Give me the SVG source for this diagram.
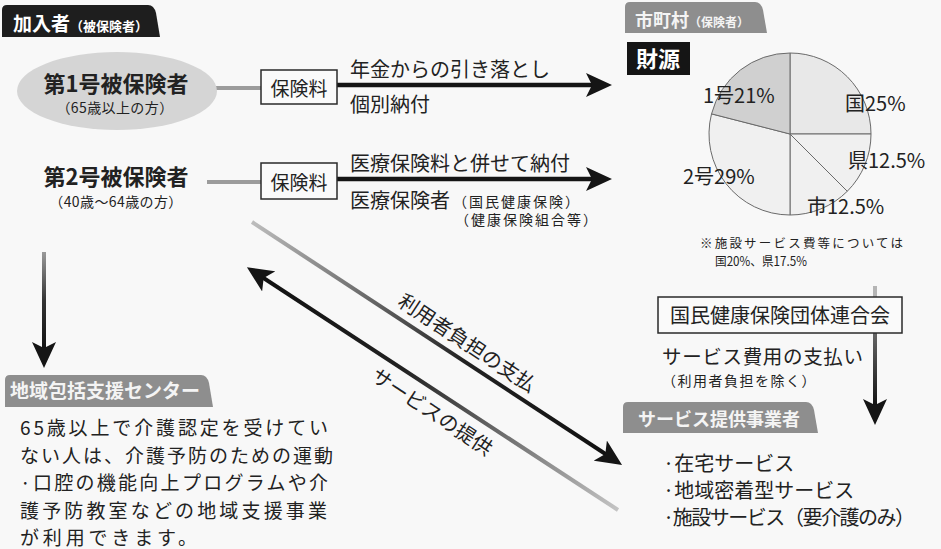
<svg xmlns="http://www.w3.org/2000/svg" width="941" height="549" viewBox="0 0 941 549">
<defs>
<style>
text{font-family:"Noto Sans CJK JP","Noto Sans CJK SC",sans-serif;fill:#222}
.tw{fill:#fff;font-weight:bold}
.tg{fill:#f4f4f4;font-weight:bold}
.box{fill:#fafafa;stroke:#2a2a2a;stroke-width:1.5}
.link{stroke:#9c9c9c;stroke-width:4;fill:none}
.arr{stroke:#151515;stroke-width:4.5;fill:none}
.pie{stroke:#6a6a6a;stroke-width:1}
.gtab{fill:#8e8e8e}
.f20{font-size:20px}
.body{font-size:19px}
.note{font-size:12.5px}
</style>
<marker id="ah" markerUnits="userSpaceOnUse" markerWidth="26" markerHeight="24" viewBox="0 0 26 24" refX="8" refY="12" orient="auto-start-reverse">
<path d="M0,0 L26,12 L0,24 L6,12 Z" fill="#151515"/>
</marker>
<linearGradient id="gUp" gradientUnits="userSpaceOnUse" x1="252" y1="222" x2="607" y2="455">
<stop offset="0" stop-color="#bdbdbd"/><stop offset="0.6" stop-color="#222"/><stop offset="1" stop-color="#111"/>
</linearGradient>
<linearGradient id="gLo" gradientUnits="userSpaceOnUse" x1="262" y1="277" x2="618" y2="510">
<stop offset="0" stop-color="#111"/><stop offset="0.4" stop-color="#222"/><stop offset="1" stop-color="#c4c4c4"/>
</linearGradient>
<linearGradient id="gV1" gradientUnits="userSpaceOnUse" x1="0" y1="252" x2="0" y2="350">
<stop offset="0" stop-color="#9a9a9a"/><stop offset="0.5" stop-color="#333"/><stop offset="1" stop-color="#111"/>
</linearGradient>
<linearGradient id="gV2" gradientUnits="userSpaceOnUse" x1="0" y1="333" x2="0" y2="407">
<stop offset="0" stop-color="#666"/><stop offset="1" stop-color="#111"/>
</linearGradient>
</defs>

<rect x="0" y="0" width="941" height="549" fill="#f8f8f8"/>

<!-- Connectors -->
<g id="connectors">
<line class="link" x1="207" y1="88" x2="261" y2="88"/>
<line class="link" x1="207" y1="182" x2="261" y2="182"/>
<line class="arr" x1="337" y1="85" x2="594" y2="85" marker-end="url(#ah)"/>
<line class="arr" x1="337" y1="179" x2="594" y2="179" marker-end="url(#ah)"/>
<line x1="44" y1="252" x2="44" y2="350" stroke="url(#gV1)" stroke-width="4" marker-end="url(#ah)"/>
<line x1="875" y1="286" x2="875" y2="297" stroke="#b5b5b5" stroke-width="4"/>
<line x1="875" y1="333" x2="875" y2="407" stroke="url(#gV2)" stroke-width="4" marker-end="url(#ah)"/>
<line x1="252" y1="222" x2="607" y2="455" stroke="url(#gUp)" stroke-width="4" marker-end="url(#ah)"/>
<line x1="262" y1="277" x2="618" y2="510" stroke="url(#gLo)" stroke-width="4" marker-start="url(#ah)"/>
<text class="f20" transform="translate(467,343) rotate(33.5)" x="0" y="7" text-anchor="middle">利用者負担の支払</text>
<text class="f20" transform="translate(432,412) rotate(33.5)" x="0" y="7" text-anchor="middle">サービスの提供</text>
<text class="f20" x="350" y="77">年金からの引き落とし</text>
<text class="f20" x="350" y="112">個別納付</text>
<text class="f20" x="350" y="171">医療保険料と併せて納付</text>
<text class="f20" x="350" y="208">医療保険者</text>
<text x="453" y="207" font-size="14" letter-spacing="2">（国民健康保険）</text>
<text x="455" y="225" font-size="14" letter-spacing="2">（健康保険組合等）</text>
<text x="662" y="364" font-size="19.5" textLength="201" lengthAdjust="spacing">サービス費用の支払い</text>
<text x="662" y="386" font-size="14" letter-spacing="1.5">（利用者負担を除く）</text>
</g>

<!-- Header: 加入者 -->
<g id="tab-kanyusha">
<path d="M2,37 L2,10 Q2,5 7,5 L148,5 Q154,5 156,13 L160,37 Z" fill="#1e1e1e"/>
<text class="tw" x="13" y="31" font-size="19">加入者<tspan font-size="13">（被保険者）</tspan></text>
</g>

<g id="node-dai1">
<ellipse cx="117" cy="91" rx="100" ry="39" fill="#d5d5d5"/>
<text x="116" y="92" font-size="22" font-weight="bold" text-anchor="middle">第1号被保険者</text>
<text x="115" y="113" font-size="14" text-anchor="middle" letter-spacing="0.4">（65歳以上の方）</text>
</g>

<g id="node-dai2">
<text x="116" y="185" font-size="22" font-weight="bold" text-anchor="middle">第2号被保険者</text>
<text x="116" y="207" font-size="14" text-anchor="middle" letter-spacing="0.4">（40歳～64歳の方）</text>
</g>

<g id="node-hoken1">
<rect class="box" x="261" y="70" width="76" height="34"/>
<text x="299" y="96" font-size="19" text-anchor="middle">保険料</text>
</g>

<g id="node-hoken2">
<rect class="box" x="261" y="163" width="76" height="36"/>
<text x="299" y="190" font-size="19" text-anchor="middle">保険料</text>
</g>

<g id="tab-shichoson">
<path class="gtab" d="M625,33 L625,7 Q625,2 630,2 L755,2 Q761,2 763,10 L767,33 Z"/>
<text class="tg" x="635" y="27" font-size="18">市町村<tspan font-size="12">（保険者）</tspan></text>
</g>

<g id="node-zaigen">
<rect x="627" y="42" width="63" height="33" fill="#151515"/>
<text class="tw" x="658" y="67" font-size="22" text-anchor="middle">財源</text>
<path class="pie" d="M790,134 L790,53 A81,81 0 0 1 871,134 Z" fill="#e8e8e8"/>
<path class="pie" d="M790,134 L871,134 A81,81 0 0 1 847.28,191.28 Z" fill="#f0f0f0"/>
<path class="pie" d="M790,134 L847.28,191.28 A81,81 0 0 1 790,215 Z" fill="#f0f0f0"/>
<path class="pie" d="M790,134 L790,215 A81,81 0 0 1 711.54,113.86 Z" fill="#f0f0f0"/>
<path class="pie" d="M790,134 L711.54,113.86 A81,81 0 0 1 790,53 Z" fill="#d0d0d0"/>
<text class="f20" x="703" y="103">1号21%</text>
<text class="f20" x="845" y="111">国25%</text>
<text class="f20" x="848" y="168">県12.5%</text>
<text class="f20" x="683" y="184">2号29%</text>
<text class="f20" x="807" y="214">市12.5%</text>
<text class="note" x="700" y="248" textLength="203" lengthAdjust="spacing">※施設サービス費等については</text>
<text class="note" x="715" y="266" textLength="92" lengthAdjust="spacingAndGlyphs">国20%、県17.5%</text>
</g>

<g id="node-kokuhoren">
<rect class="box" x="658" y="297" width="244" height="36"/>
<text class="f20" x="780" y="323" text-anchor="middle">国民健康保険団体連合会</text>
</g>

<g id="node-service">
<path class="gtab" d="M623,433 L623,407 Q623,402 628,402 L806,402 Q812,402 814,410 L818,433 Z"/>
<text class="tg" x="638" y="426" font-size="18">サービス提供事業者</text>
<text class="f20" x="663" y="471">·在宅サービス</text>
<text class="f20" x="663" y="498">·地域密着型サービス</text>
<text class="f20" x="663" y="525" textLength="252" lengthAdjust="spacing">·施設サービス（要介護のみ）</text>
</g>

<g id="node-chiiki">
<path class="gtab" d="M5,407 L5,380 Q5,375 10,375 L201,375 Q207,375 209,383 L213,407 Z"/>
<text class="tg" x="10" y="398" font-size="19">地域包括支援センター</text>
<text class="body" x="20" y="435" textLength="308" lengthAdjust="spacing">65歳以上で介護認定を受けてい</text>
<text class="body" x="20" y="462.5" textLength="313" lengthAdjust="spacing">ない人は、介護予防のための運動</text>
<text class="body" x="20" y="490" textLength="308" lengthAdjust="spacing">·口腔の機能向上プログラムや介</text>
<text class="body" x="20" y="517.5" textLength="307" lengthAdjust="spacing">護予防教室などの地域支援事業</text>
<text class="body" x="20" y="545" textLength="177" lengthAdjust="spacing">が利用できます。</text>
</g>
</svg>
